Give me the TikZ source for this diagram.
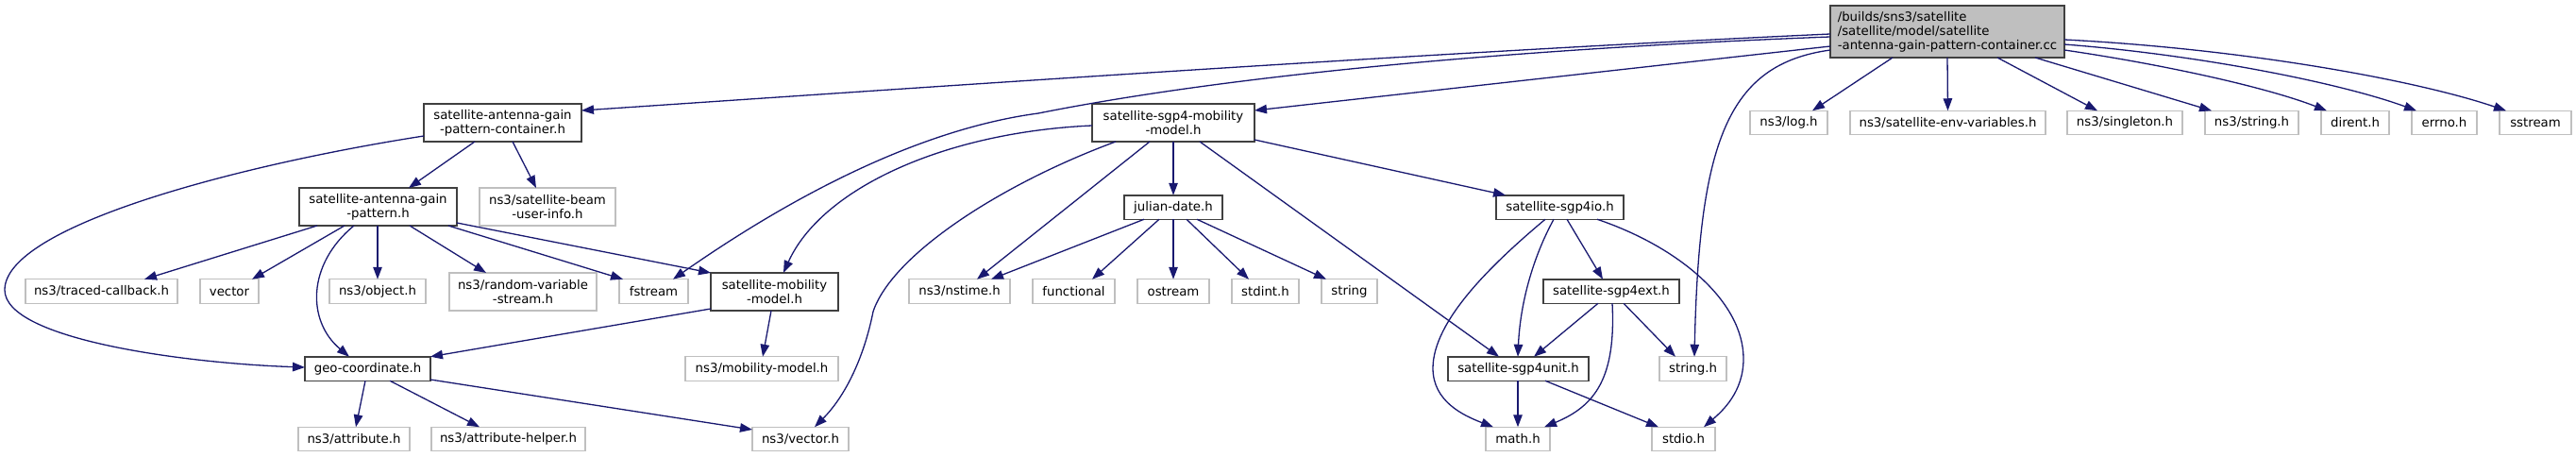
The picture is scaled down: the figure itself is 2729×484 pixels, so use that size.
\documentclass[tikz,border=0pt]{standalone}
\usepackage{fontspec}
\setmainfont{DejaVu Sans}
\usetikzlibrary{arrows.meta}
\definecolor{edgeblue}{HTML}{191970}
\definecolor{greyA}{HTML}{404040}
\definecolor{greyB}{HTML}{BFBFBF}
\tikzset{
  box/.style={inner sep=0pt, outer sep=0pt, align=center, fill=white,
    font=\fontsize{13.3}{15}\selectfont, minimum height=25.5pt},
  doc/.style={box, draw=greyA, line width=1.5pt},
  ext/.style={box, draw=greyB, line width=1.3pt},
  e/.style={draw=edgeblue, line width=1.3pt, -{Triangle[length=13pt,width=9.5pt]}},
}
\begin{document}
\begin{tikzpicture}[x=1pt,y=-1pt]
\useasboundingbox (0,0) rectangle (2729,484);
% top
\node[doc, fill=greyB, align=left, minimum width=248pt, minimum height=55pt] (root) at (2063,33.5)
  {/builds/sns3/satellite\\/satellite/model/satellite\\-antenna-gain-pattern-container.cc};
\node[doc, minimum width=167pt, minimum height=40pt] (container) at (532.5,130) {satellite-antenna-gain\\-pattern-container.h};
\node[doc, minimum width=172pt, minimum height=40pt] (sgp4mob) at (1243,130) {satellite-sgp4-mobility\\-model.h};
\node[ext, minimum width=82pt] (log) at (1895,130) {ns3/log.h};
\node[ext, minimum width=207pt] (env) at (2063.5,130) {ns3/satellite-env-variables.h};
\node[ext, minimum width=122pt] (singleton) at (2251,130) {ns3/singleton.h};
\node[ext, minimum width=99pt] (nsstring) at (2385.5,130) {ns3/string.h};
\node[ext, minimum width=72pt] (dirent) at (2495,130) {dirent.h};
\node[ext, minimum width=69pt] (errno) at (2589.5,130) {errno.h};
\node[ext, minimum width=76pt] (sstream) at (2686,130) {sstream};
% second row
\node[doc, minimum width=167pt, minimum height=40pt] (antenna) at (400.5,219) {satellite-antenna-gain\\-pattern.h};
\node[ext, minimum width=144pt, minimum height=40pt] (beam) at (580,219) {ns3/satellite-beam\\-user-info.h};
\node[doc, minimum width=104pt] (julian) at (1243,219.5) {julian-date.h};
\node[doc, minimum width=135pt] (sgp4io) at (1652.5,219.5) {satellite-sgp4io.h};
% third row
\node[ext, minimum width=161pt] (traced) at (107.5,308.5) {ns3/traced-callback.h};
\node[ext, minimum width=62pt] (vectorstd) at (243,308.5) {vector};
\node[ext, minimum width=102pt] (object) at (400,308.5) {ns3/object.h};
\node[ext, minimum width=156pt, minimum height=40pt] (random) at (554,309) {ns3/random-variable\\-stream.h};
\node[ext, minimum width=73pt] (fstream) at (692.5,308.5) {fstream};
\node[doc, minimum width=135pt, minimum height=40pt] (satmob) at (820.5,309) {satellite-mobility\\-model.h};
\node[ext, minimum width=107pt] (nstime) at (1016.5,308.5) {ns3/nstime.h};
\node[ext, minimum width=87pt] (functional) at (1137.5,308.5) {functional};
\node[ext, minimum width=76pt] (ostream) at (1243,308.5) {ostream};
\node[ext, minimum width=71pt] (stdint) at (1340.5,308.5) {stdint.h};
\node[ext, minimum width=59pt] (stringstd) at (1429.5,308.5) {string};
\node[doc, minimum width=144pt] (sgp4ext) at (1707,308.5) {satellite-sgp4ext.h};
% fourth row
\node[doc, minimum width=133pt] (geo) at (389.5,390.5) {geo-coordinate.h};
\node[ext, minimum width=162pt] (mobmodel) at (807,390.5) {ns3/mobility-model.h};
\node[doc, minimum width=149pt] (sgp4unit) at (1608.5,390.5) {satellite-sgp4unit.h};
\node[ext, minimum width=71pt] (stringh) at (1793.5,390.5) {string.h};
% fifth row
\node[ext, minimum width=118pt] (attribute) at (375,465) {ns3/attribute.h};
\node[ext, minimum width=163pt] (attrhelper) at (538.5,465) {ns3/attribute-helper.h};
\node[ext, minimum width=102pt] (vectorh) at (848,465) {ns3/vector.h};
\node[ext, minimum width=68pt] (math) at (1608,465) {math.h};
\node[ext, minimum width=67pt] (stdio) at (1783.5,465) {stdio.h};

% root edges
\draw[e] (root.west |- 0,36) .. controls (1500,56) and (900,98) .. (container.east |- 0,117);
\draw[e] (root.west |- 0,39) .. controls (1600,52) and (1300,80) .. (1100,120)
  .. controls (950,140) and (800,235) .. (fstream.north -| 713,0);
\draw[e] (root.west |- 0,49) -- (sgp4mob.east |- 0,117);
\draw[e] (root.west |- 0,53) .. controls (1830,68) and (1800,150) .. (stringh.north -| 1795,0);
\draw[e] (root.south -| 2005,0) -- (log.north -| 1920,0);
\draw[e] (root.south) -- (env.north);
\draw[e] (root.south -| 2116,0) -- (singleton.north -| 2222,0);
\draw[e] (root.south -| 2156,0) -- (nsstring.north -| 2343,0);
\draw[e] (root.east |- 0,53) .. controls (2290,68) and (2400,92) .. (dirent.north -| 2465,0);
\draw[e] (root.east |- 0,47) .. controls (2330,58) and (2480,88) .. (errno.north -| 2560,0);
\draw[e] (root.east |- 0,42) .. controls (2380,52) and (2560,85) .. (sstream.north -| 2655,0);
% container edges
\draw[e] (container.south -| 503,0) -- (antenna.north -| 433,0);
\draw[e] (container.south -| 543,0) -- (beam.north -| 568,0);
\draw[e] (container.west |- 0,144) .. controls (250,175) and (5,240) .. (5,307)
  .. controls (5,360) and (200,385) .. (geo.west |- 0,389);
% antenna edges
\draw[e] (antenna.south -| 336,0) -- (traced.north -| 153,0);
\draw[e] (antenna.south -| 365,0) -- (vectorstd.north -| 267,0);
\draw[e] (antenna.south -| 375,0) .. controls (325,280) and (325,340) .. (geo.north -| 370,0);
\draw[e] (antenna.south -| 400,0) -- (object.north);
\draw[e] (antenna.south -| 434,0) -- (random.north -| 515,0);
\draw[e] (antenna.south -| 475,0) -- (fstream.north -| 660,0);
\draw[e] (antenna.east |- 0,236) -- (satmob.north west);
% satellite-mobility-model edges
\draw[e] (satmob.west |- 0,327) -- (geo.north east);
\draw[e] (satmob.south -| 817,0) -- (mobmodel.north -| 808,0);
% geo edges
\draw[e] (geo.south -| 387,0) -- (attribute.north -| 377,0);
\draw[e] (geo.south -| 413,0) -- (attrhelper.north -| 508,0);
\draw[e] (geo.east |- 0,402) -- (vectorh.west |- 0,455);
% sgp4 mobility edges
\draw[e] (sgp4mob.west |- 0,133) .. controls (1000,140) and (870,200) .. (satmob.north -| 830,0);
\draw[e] (sgp4mob.south -| 1182,0) .. controls (1060,195) and (945,270) .. (925,330)
  .. controls (915,380) and (895,420) .. (vectorh.north -| 863,0);
\draw[e] (sgp4mob.south -| 1218,0) -- (nstime.north -| 1035,0);
\draw[e] (sgp4mob.south) -- (julian.north);
\draw[e] (sgp4mob.south -| 1271,0) -- (sgp4unit.north -| 1588,0);
\draw[e] (sgp4mob.east |- 0,148) -- (sgp4io.north -| 1595,0);
% julian edges
\draw[e] (julian.south -| 1212,0) -- (nstime.north -| 1050,0);
\draw[e] (julian.south -| 1228,0) -- (functional.north -| 1157,0);
\draw[e] (julian.south) -- (ostream.north);
\draw[e] (julian.south -| 1257,0) -- (stdint.north -| 1323,0);
\draw[e] (julian.south -| 1268,0) -- (stringstd.north -| 1405,0);
% sgp4io edges
\draw[e] (sgp4io.south -| 1637,0) .. controls (1580,280) and (1518,340) .. (1518,390)
  .. controls (1518,425) and (1550,440) .. (math.north -| 1582,0);
\draw[e] (sgp4io.south -| 1646,0) .. controls (1620,280) and (1610,330) .. (sgp4unit.north -| 1608,0);
\draw[e] (sgp4io.south -| 1660,0) -- (sgp4ext.north -| 1698,0);
\draw[e] (sgp4io.south -| 1692,0) .. controls (1780,262) and (1847,320) .. (1847,380)
  .. controls (1847,415) and (1825,435) .. (stdio.north -| 1805,0);
% sgp4ext edges
\draw[e] (sgp4ext.south -| 1693,0) -- (sgp4unit.north -| 1625,0);
\draw[e] (sgp4ext.south -| 1708,0) .. controls (1712,400) and (1690,430) .. (math.north -| 1636,0);
\draw[e] (sgp4ext.south -| 1720,0) -- (stringh.north -| 1775,0);
% sgp4unit edges
\draw[e] (sgp4unit.south -| 1608,0) -- (math.north);
\draw[e] (sgp4unit.south -| 1637,0) -- (stdio.north -| 1757,0);
\end{tikzpicture}
\end{document}
